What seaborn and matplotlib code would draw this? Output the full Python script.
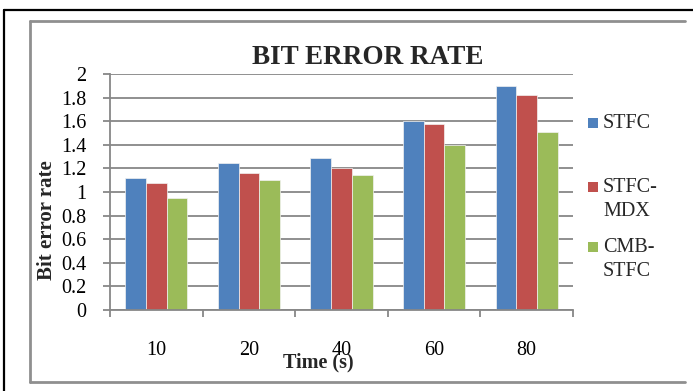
import numpy as np
import pandas as pd
import seaborn as sns
import matplotlib
matplotlib.use("Agg")
import matplotlib.pyplot as plt
from matplotlib.patches import Rectangle
from matplotlib.lines import Line2D

# Data
times = ["10", "20", "40", "60", "80"]
stfc = [1.12, 1.25, 1.29, 1.60, 1.90]
stfc_mdx = [1.08, 1.16, 1.20, 1.58, 1.82]
cmb_stfc = [0.95, 1.10, 1.14, 1.40, 1.51]
series = ["STFC", "STFC-MDX", "CMB-STFC"]
legend_labels = ["STFC", "STFC-\nMDX", "CMB-\nSTFC"]
colors = ["#4F81BD", "#C0504D", "#9BBB59"]
yticks = [0, 0.2, 0.4, 0.6, 0.8, 1.0, 1.2, 1.4, 1.6, 1.8, 2.0]
ytick_labels = ["0", "0.2", "0.4", "0.6", "0.8", "1", "1.2", "1.4", "1.6", "1.8", "2"]

sns.set_theme(style="white")
plt.rcParams["font.family"] = ["Liberation Serif", "DejaVu Serif"]

df = pd.DataFrame({
    "Time": times * 3,
    "Rate": stfc + stfc_mdx + cmb_stfc,
    "Series": np.repeat(series, len(times)),
})

W, H = 693, 391
fig = plt.figure(figsize=(W / 100, H / 100), dpi=100)
fig.patch.set_facecolor("white")


def fx(px):
    return px / W


def fy(py):
    return 1 - py / H


grid_col = "#878787"

ax = fig.add_axes([fx(110), fy(310), (573 - 110) / W, (310 - 74) / H])
sns.barplot(data=df, x="Time", y="Rate", hue="Series", hue_order=series,
            order=times, palette=colors, width=0.67, gap=0, saturation=1,
            errorbar=None, legend=False, edgecolor="#f2f2f2", linewidth=0.5,
            ax=ax)

ax.set_xlim(-0.5, len(times) - 0.5)
ax.set_ylim(0, 2)
ax.set_axisbelow(True)
ax.yaxis.grid(True, color=grid_col, linewidth=1.3)
ax.xaxis.grid(False)
for s in ["top", "right"]:
    ax.spines[s].set_visible(False)
for s in ["left", "bottom"]:
    ax.spines[s].set_color(grid_col)
    ax.spines[s].set_linewidth(1.3)

ax.set_yticks(yticks, ytick_labels)
ax.tick_params(axis="y", length=5, width=1.3, color=grid_col, pad=12,
               labelsize=14.5, labelcolor="black", left=True)
ax.set_xticks(range(len(times)), times)
ax.set_xticks(np.arange(-0.5, len(times)), minor=True)
ax.tick_params(axis="x", which="major", length=0, pad=22, labelsize=14.5,
               labelcolor="black")
ax.tick_params(axis="x", which="minor", length=5, width=1.3, color=grid_col,
               bottom=True, direction="out")
ax.set_xlabel("")
ax.set_ylabel("")

# Titles and axis labels
fig.text(fx(368), fy(57), "BIT ERROR RATE", ha="center", va="center",
         fontsize=19.5, fontweight="bold")
fig.text(fx(318), fy(362), "Time (s)", ha="center", va="center",
         fontsize=14.5, fontweight="bold")
fig.text(fx(47), fy(220), "Bit error rate", ha="center", va="center",
         rotation=90, fontsize=15, fontweight="bold")

# Legend
legend_y = [123, 187, 247]
for lab, col, y0 in zip(legend_labels, colors, legend_y):
    fig.add_artist(Rectangle((fx(588), fy(y0 + 5)), 10 / W, 10 / H,
                             transform=fig.transFigure, facecolor=col,
                             edgecolor="none"))
    for i, line in enumerate(lab.split("\n")):
        fig.text(fx(603), fy(y0 + i * 25), line, ha="left", va="center",
                 fontsize=14.5)

# Outer frames
fig.add_artist(Line2D([fx(4), fx(4)], [0, fy(10)], transform=fig.transFigure,
                      color="black", linewidth=1.6))
fig.add_artist(Line2D([fx(4), 1], [fy(10), fy(10)], transform=fig.transFigure,
                      color="black", linewidth=1.6))
frame_col = "#8f8f8f"
fig.add_artist(Line2D([fx(30), fx(30)], [fy(382), fy(21)],
                      transform=fig.transFigure, color=frame_col, linewidth=2))
fig.add_artist(Line2D([fx(30), fx(685)], [fy(21), fy(21)],
                      transform=fig.transFigure, color=frame_col, linewidth=2))
fig.add_artist(Line2D([fx(30), fx(685)], [fy(382), fy(382)],
                      transform=fig.transFigure, color=frame_col, linewidth=2))

fig.savefig("out.png", dpi=100)
